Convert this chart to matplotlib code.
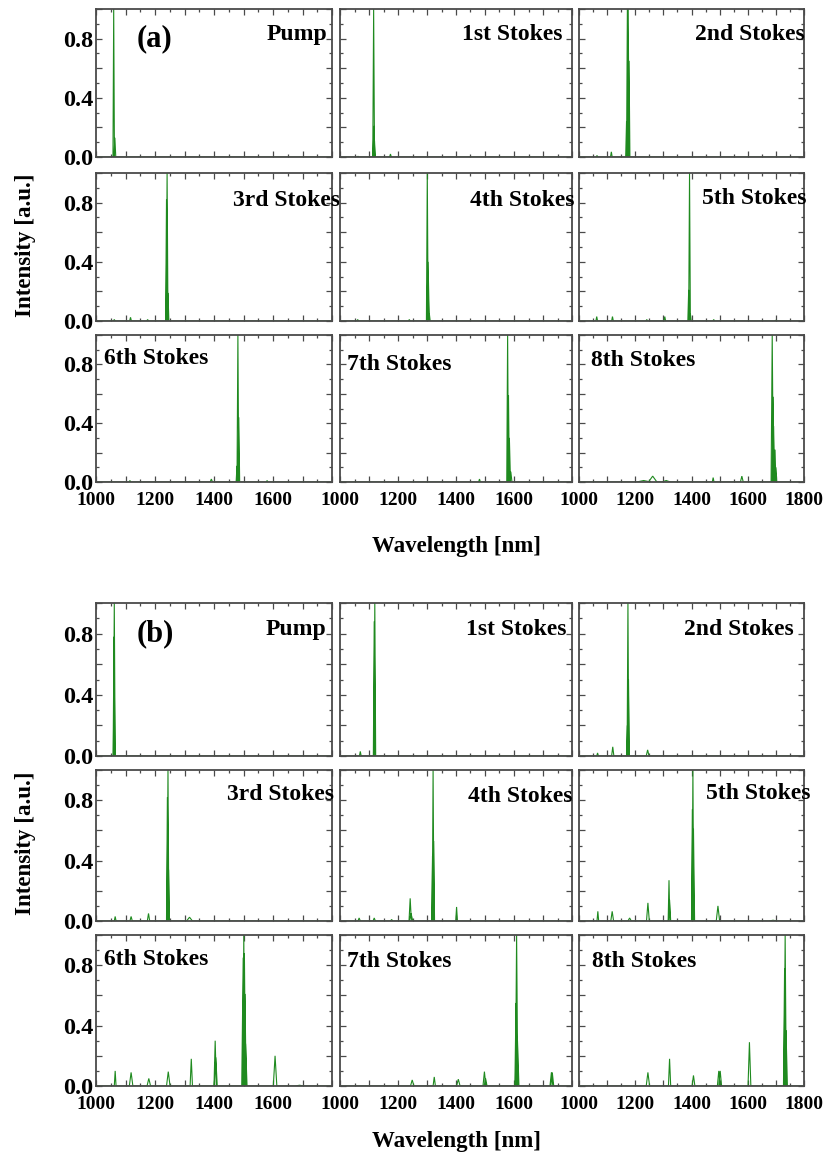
import matplotlib
matplotlib.use("Agg")
import matplotlib.pyplot as plt
from matplotlib.ticker import MultipleLocator, FuncFormatter

plt.rcParams["font.family"] = ["Liberation Serif", "DejaVu Serif"]
plt.rcParams["font.weight"] = "bold"

# Spectral peaks per panel: (centre wavelength [nm], normalised intensity, half base width [nm])
A_PUMP = [(1060, 1.0, 2.5), (1064, 0.13, 3)]
A_S1 = [(1062, 0.005, 3), (1116, 1.0, 3), (1117, 0.21, 3), (1119, 0.11, 2.5), (1174, 0.02, 3)]
A_S2 = [(1064, 0.01, 3), (1115, 0.035, 3), (1169, 0.24, 3), (1172, 1.0, 3), (1175, 1.0, 3), (1178, 0.65, 3)]
A_S3 = [(1062, 0.01, 3), (1117, 0.025, 3), (1175, 0.01, 3), (1239, 0.82, 3), (1241, 1.0, 3), (1244, 0.19, 3)]
A_S4 = [(1061, 0.01, 3), (1239, 0.01, 3), (1301, 1.0, 3), (1303, 0.40, 3), (1305, 0.27, 3), (1308, 0.05, 3)]
A_S5 = [(1063, 0.03, 3), (1119, 0.03, 3), (1241, 0.01, 3), (1305, 0.03, 3), (1390, 0.21, 3),
        (1393, 1.0, 3), (1396, 0.05, 3), (1479, 0.01, 3), (1700, 0.005, 5)]
A_S6 = [(1115, 0.01, 3), (1391, 0.02, 4), (1478, 0.11, 3), (1481, 1.0, 3), (1484, 0.44, 3), (1580, 0.01, 3)]
A_S7 = [(1481, 0.02, 3), (1578, 1.0, 3), (1581, 0.59, 3), (1584, 0.30, 4), (1589, 0.07, 4)]
A_S8 = [(1230, 0.01, 25), (1262, 0.04, 15), (1310, 0.01, 15), (1477, 0.03, 3), (1579, 0.04, 5),
        (1687, 1.0, 4), (1690, 0.58, 3), (1692, 0.38, 3), (1697, 0.22, 3), (1700, 0.10, 3)]

B_PUMP = [(1061, 0.78, 3), (1062, 1.0, 3)]
B_S1 = [(1070, 0.03, 3), (1118, 0.88, 3), (1120, 1.0, 3)]
B_S2 = [(1066, 0.02, 3), (1120, 0.06, 4), (1172, 0.20, 3), (1174, 1.0, 3), (1176, 0.50, 3), (1244, 0.04, 5)]
B_S3 = [(1065, 0.03, 3), (1119, 0.03, 4), (1178, 0.05, 4), (1242, 0.82, 3), (1244, 1.0, 3),
        (1246, 0.34, 3), (1317, 0.025, 10)]
B_S4 = [(1066, 0.02, 4), (1118, 0.02, 4), (1178, 0.01, 4), (1242, 0.15, 4), (1245, 0.05, 6),
        (1319, 0.43, 3), (1321, 1.0, 3), (1323, 0.53, 3), (1402, 0.093, 3)]
B_S5 = [(1067, 0.064, 3), (1118, 0.064, 5), (1180, 0.02, 6), (1245, 0.12, 5), (1320, 0.27, 3),
        (1322, 0.14, 4), (1403, 0.74, 3), (1405, 1.0, 3), (1407, 0.61, 4), (1494, 0.10, 6), (1690, 0.005, 15)]
B_S6 = [(1065, 0.10, 3), (1119, 0.09, 6), (1179, 0.05, 6), (1245, 0.095, 6), (1323, 0.18, 4),
        (1404, 0.30, 4), (1406, 0.19, 5), (1499, 0.85, 5), (1501, 1.0, 3), (1503, 0.88, 4),
        (1505, 0.61, 4), (1507, 0.28, 5), (1607, 0.20, 6), (1690, 0.005, 15)]
B_S7 = [(1249, 0.04, 6), (1325, 0.06, 4), (1408, 0.045, 6), (1498, 0.095, 5), (1502, 0.05, 5),
        (1607, 0.55, 4), (1609, 1.0, 4), (1612, 0.30, 5), (1729, 0.09, 5), (1732, 0.09, 5)]
B_S8 = [(1245, 0.09, 6), (1322, 0.18, 4), (1407, 0.07, 5), (1497, 0.10, 5), (1502, 0.10, 5),
        (1606, 0.29, 5), (1731, 0.78, 4), (1733, 1.0, 4), (1736, 0.37, 5)]

PANEL_NAMES = ["Pump", "1st Stokes", "2nd Stokes",
               "3rd Stokes", "4th Stokes", "5th Stokes",
               "6th Stokes", "7th Stokes", "8th Stokes"]
SPECTRA_A = [A_PUMP, A_S1, A_S2, A_S3, A_S4, A_S5, A_S6, A_S7, A_S8]
SPECTRA_B = [B_PUMP, B_S1, B_S2, B_S3, B_S4, B_S5, B_S6, B_S7, B_S8]

X_RANGE = (1000, 1800)
Y_RANGE = (0.0, 1.0)

LINE_COLOR = "#1f8a1f"
SPINE_COLOR = "#4a4a4a"

W, H = 826, 1162
fig = plt.figure(figsize=(W / 100, H / 100), dpi=100)

# panel grid in pixels: (left, width) per column and (top, height) per row
COLS = [(96, 236), (340, 232), (579, 225)]
ROWS_A = [(9, 148), (173, 148), (335, 147)]
ROWS_B = [(603, 153), (770, 151), (935, 151)]

# label placement in axes fraction: (x, y, horizontal alignment)
LABEL_POS_A = [(0.98, 0.79, "right"), (0.96, 0.79, "right"), (1.005, 0.79, "right"),
               (1.035, 0.78, "right"), (1.01, 0.78, "right"), (1.01, 0.79, "right"),
               (0.034, 0.80, "left"), (0.03, 0.76, "left"), (0.053, 0.79, "left")]
LABEL_POS_B = [(0.975, 0.79, "right"), (0.977, 0.79, "right"), (0.956, 0.79, "right"),
               (1.01, 0.80, "right"), (1.0, 0.79, "right"), (1.03, 0.81, "right"),
               (0.033, 0.80, "left"), (0.03, 0.79, "left"), (0.06, 0.79, "left")]


def peak_path(peaks):
    xs, ys = [X_RANGE[0]], [0.0]
    for c, h, w in sorted(peaks):
        xs += [c - w, c, c + w]
        ys += [0.0, h, 0.0]
    xs.append(X_RANGE[1])
    ys.append(0.0)
    return xs, ys


def x_fmt(last):
    def f(v, pos):
        iv = int(round(v))
        if iv % 200 == 0 and iv <= last:
            return str(iv)
        return ""
    return FuncFormatter(f)


def y_fmt(v, pos):
    k = v / 0.4
    if abs(k - round(k)) < 1e-6 and v < 0.95:
        return f"{v:.1f}"
    return ""


def draw_block(rows, spectra, label_pos, tag):
    for i in range(9):
        r, c = divmod(i, 3)
        left, width = COLS[c]
        top, height = rows[r]
        ax = fig.add_axes([left / W, 1 - (top + height) / H, width / W, height / H])
        xs, ys = peak_path(spectra[i])
        ax.plot(xs, ys, color=LINE_COLOR, lw=0.8, solid_joinstyle="miter")
        ax.set_xlim(*X_RANGE)
        ax.set_ylim(*Y_RANGE)
        ax.xaxis.set_major_locator(MultipleLocator(100))
        ax.xaxis.set_minor_locator(MultipleLocator(50))
        ax.yaxis.set_major_locator(MultipleLocator(0.2))
        ax.yaxis.set_minor_locator(MultipleLocator(0.1))
        ax.tick_params(which="both", direction="in", top=True, right=True,
                       color=SPINE_COLOR, width=0.9)
        ax.tick_params(which="major", length=4.5)
        ax.tick_params(which="minor", length=2.5)
        ax.tick_params(axis="x", labelsize=14, pad=7.5)
        ax.tick_params(axis="y", labelsize=17.5, pad=2)
        for sp in ax.spines.values():
            sp.set_color(SPINE_COLOR)
            sp.set_linewidth(1.3)
        if r == 2:
            ax.xaxis.set_major_formatter(x_fmt(1800 if c == 2 else 1600))
        else:
            ax.xaxis.set_major_formatter(FuncFormatter(lambda v, p: ""))
        if c == 0:
            ax.yaxis.set_major_formatter(FuncFormatter(y_fmt))
        else:
            ax.yaxis.set_major_formatter(FuncFormatter(lambda v, p: ""))
        for lab in ax.get_xticklabels() + ax.get_yticklabels():
            lab.set_fontweight("bold")
        lx, ly, ha = label_pos[i]
        ax.text(lx, ly, PANEL_NAMES[i], transform=ax.transAxes, ha=ha, va="baseline",
                fontsize=17, fontweight="bold", clip_on=False, zorder=5)
        if i == 0:
            ax.text(0.25, 0.80, tag, transform=ax.transAxes, ha="center", va="center",
                    fontsize=22, fontweight="bold")


draw_block(ROWS_A, SPECTRA_A, LABEL_POS_A, "(a)")
draw_block(ROWS_B, SPECTRA_B, LABEL_POS_B, "(b)")

for yc in (245, 843):
    fig.text(25 / W, 1 - yc / H, "Intensity [a.u.]", rotation=90, ha="center", va="center",
             fontsize=16.5, fontweight="bold")
for yc in (546, 1142):
    fig.text(456 / W, 1 - yc / H, "Wavelength [nm]", ha="center", va="center",
             fontsize=16.5, fontweight="bold")

fig.savefig("out.png", dpi=100, facecolor="white")
